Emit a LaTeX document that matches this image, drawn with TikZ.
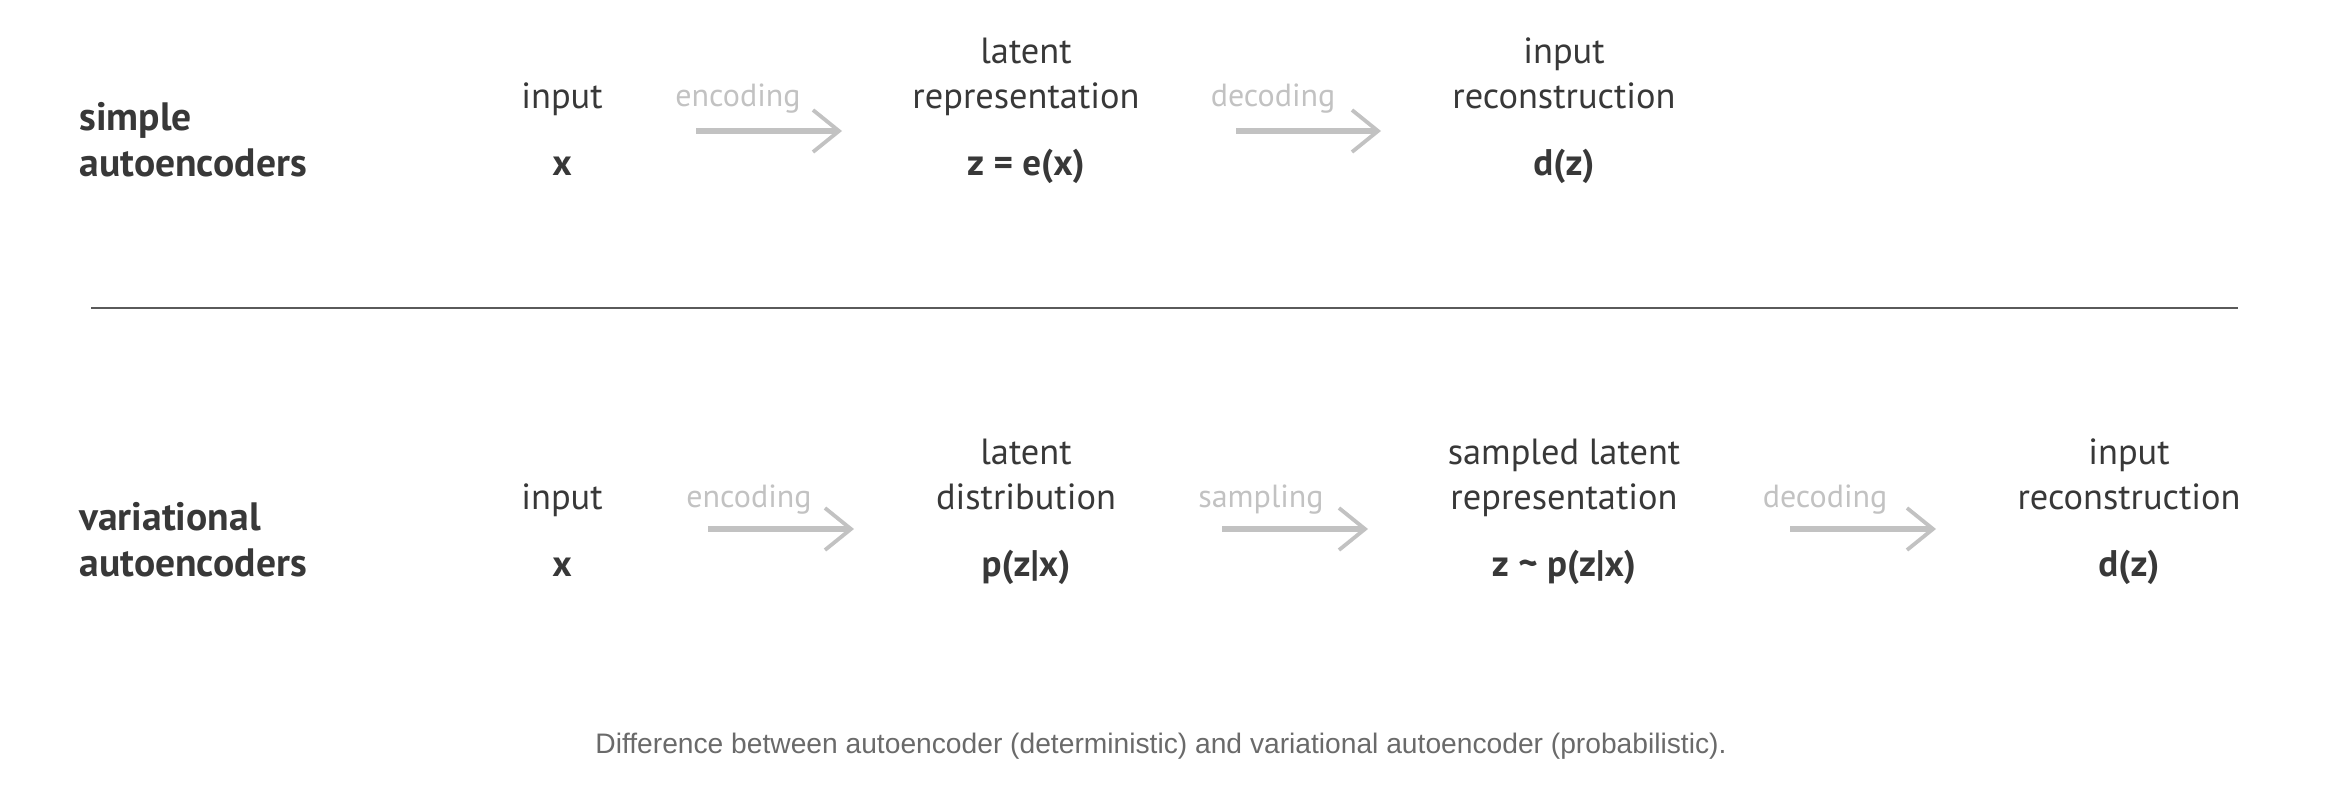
\documentclass[tikz,border=0pt]{standalone}
\usepackage{fontspec}
\setmainfont{PT Sans}
\newfontfamily\capfont{Liberation Sans}
\usetikzlibrary{positioning,arrows.meta}
\definecolor{ink}{HTML}{383838}
\definecolor{faint}{HTML}{C2C2C2}
\definecolor{rulegray}{HTML}{5A5A5A}
\definecolor{capgray}{HTML}{6A6A6A}
\tikzset{
  every node/.style={
    inner sep=0pt,
    text=ink
  },
  desc/.style={align=center, anchor=base, font=\fontsize{18.2}{22.5}\selectfont},
  formula/.style={anchor=base, font=\fontsize{18.5}{20}\selectfont\bfseries},
  rowname/.style={align=left, anchor=base west, font=\fontsize{19.8}{22.8}\selectfont\bfseries},
  stepname/.style={anchor=base, text=faint, font=\fontsize{16}{18}\selectfont},
  flow/.style={draw=faint, line width=2.6pt, -{Straight Barb[length=13pt,width=21pt,line width=1.9pt]}}
}

\begin{document}
\begin{tikzpicture}[x=0.5pt, y=0.5pt]
        \useasboundingbox (0,0) rectangle (2332,-804);
        \node [rowname] (simple) at (79,-176) {simple\\autoencoders};
        \node [desc] (inA) at (562,-108) {input};
        \node [formula, below=33.5pt of inA.base, anchor=base] (xA) {x};
        \node [desc] (latA) at (1026,-108) {latent\\representation};
        \node [formula, below=33.5pt of latA.base, anchor=base] (zA) {z = e(x)};
        \node [desc] (recA) at (1564,-108) {input\\reconstruction};
        \node [formula, below=33.5pt of recA.base, anchor=base] (dA) {d(z)};
        \node [stepname] (encA) at (738,-106) {encoding};
        \node [stepname] (decA) at (1273,-106) {decoding};
        \coordinate (encA-s) at (696,-131);
        \coordinate (encA-e) at (842,-131);
        \coordinate (decA-s) at (1236,-131);
        \coordinate (decA-e) at (1381,-131);
        \draw [flow] (encA-s) -- (encA-e);
        \draw [flow] (decA-s) -- (decA-e);
        \coordinate (rule-l) at (91,-308);
        \coordinate (rule-r) at (2238,-308);
        \draw [rulegray, line width=1.1pt] (rule-l) -- (rule-r);
        \node [rowname] (vari) at (79,-576) {variational\\autoencoders};
        \node [desc] (inB) at (562,-509) {input};
        \node [formula, below=33.5pt of inB.base, anchor=base] (xB) {x};
        \node [desc] (latB) at (1026,-509) {latent\\distribution};
        \node [formula, below=33.5pt of latB.base, anchor=base] (pB) {p(z|x)};
        \node [desc] (smpB) at (1564,-509) {sampled latent\\representation};
        \node [formula, below=33.5pt of smpB.base, anchor=base] (zB) {z \textasciitilde{} p(z|x)};
        \node [desc] (recB) at (2129,-509) {input\\reconstruction};
        \node [formula, below=33.5pt of recB.base, anchor=base] (dB) {d(z)};
        \node [stepname] (encB) at (749,-507) {encoding};
        \node [stepname] (smplB) at (1261,-507) {sampling};
        \node [stepname] (decB) at (1825,-507) {decoding};
        \coordinate (encB-s) at (708,-529);
        \coordinate (encB-e) at (854,-529);
        \coordinate (smplB-s) at (1222,-529);
        \coordinate (smplB-e) at (1368,-529);
        \coordinate (decB-s) at (1790,-529);
        \coordinate (decB-e) at (1936,-529);
        \draw [flow] (encB-s) -- (encB-e);
        \draw [flow] (smplB-s) -- (smplB-e);
        \draw [flow] (decB-s) -- (decB-e);
        \node [anchor=base, text=capgray, font=\capfont\fontsize{14.1}{16}\selectfont] (caption) at (1161,-753) {Difference between autoencoder (deterministic) and variational autoencoder (probabilistic).};
      \end{tikzpicture}
\end{document}
